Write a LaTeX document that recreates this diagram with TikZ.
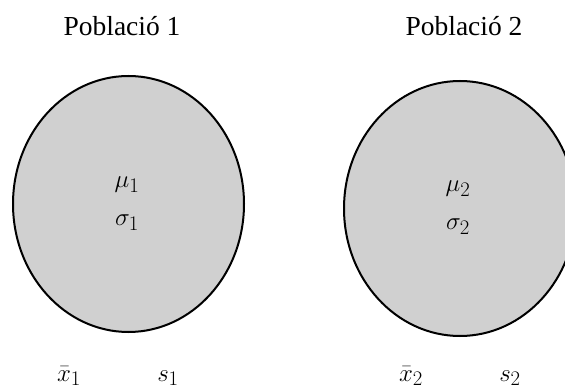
\documentclass[tikz,border=0pt]{standalone}
\usepackage{fontspec}
\setmainfont{Liberation Serif}
\usepackage{tikz}
\usetikzlibrary{shapes.geometric}
\definecolor{popgray}{HTML}{D0D0D0}
\tikzset{
  popnode/.style={ellipse,draw=black,fill=popgray,line width=2pt,inner sep=0pt},
  poptitle/.style={anchor=base,font=\fontsize{27.5}{30}\selectfont},
  paramlabel/.style={anchor=base,inner sep=0pt,font=\fontsize{31}{34}\selectfont}
}
\begin{document}
\begin{tikzpicture}[x=1pt,y=-1pt]
\clip (0,0) rectangle (565,390);
\fill[white] (0,0) rectangle (565,390);
% two populations
\node[popnode,minimum width=231pt,minimum height=256pt] (pop1) at (128.5,204) {};
\node[popnode,minimum width=232pt,minimum height=255pt] (pop2) at (460,208.5) {};
\node[poptitle] (title1) at (122,36) {Població 1};
\node[poptitle] (title2) at (464,36) {Població 2};
% parameters
\node[paramlabel] (mu1) at (127,188) {$\mu_1$};
\node[paramlabel] (sigma1) at (127,226) {$\sigma_1$};
\node[paramlabel] (mu2) at (458,192) {$\mu_2$};
\node[paramlabel] (sigma2) at (458,230) {$\sigma_2$};
% sample statistics
\node[paramlabel] (xbar1) at (69,381) {$\bar{x}_1$};
\node[paramlabel] (s1) at (168,381) {$s_1$};
\node[paramlabel] (xbar2) at (411,381) {$\bar{x}_2$};
\node[paramlabel] (s2) at (510,381) {$s_2$};
\end{tikzpicture}
\end{document}
